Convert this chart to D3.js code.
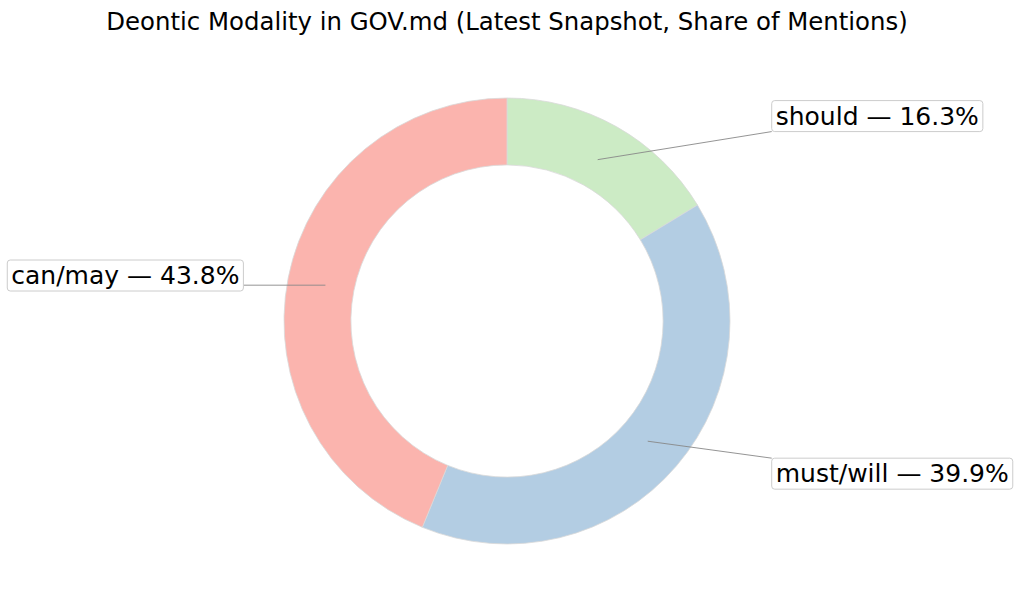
<!DOCTYPE html>
<html><head><meta charset="utf-8">
<script src="https://cdn.jsdelivr.net/npm/d3@7"></script>
<style>body{margin:0;background:#fff}svg{display:block}text{font-family:"DejaVu Sans",sans-serif}</style>
</head><body>
<svg id="c" width="1020" height="610"></svg>
<script>
const categories = ["should", "must/will", "can/may"];
const shares = [16.3, 39.9, 43.8];
const colors = ["#ccebc5", "#b3cde3", "#fbb4ae"];
const title = "Deontic Modality in GOV.md (Latest Snapshot, Share of Mentions)";

const W = 1020, H = 610, cx = 507, cy = 321, R = 223, r0 = R * 0.7;
const svg = d3.select("#c");
svg.append("text").attr("x", cx).attr("y", 30).attr("text-anchor", "middle")
  .attr("font-size", 24.4).text(title);

const pie = d3.pie().sort(null).value(d => d).startAngle(0).endAngle(2 * Math.PI);
const arcs = pie(shares);
const arc = d3.arc().innerRadius(r0).outerRadius(R);
const g = svg.append("g").attr("transform", `translate(${cx},${cy})`);
g.selectAll("path").data(arcs).join("path")
  .attr("d", arc).attr("fill", (d, i) => colors[i])
  .attr("stroke", "#d9d9d9").attr("stroke-width", 0.8);

const fs = 25;
arcs.forEach((a, i) => {
  const m = (a.startAngle + a.endAngle) / 2;
  const px = Math.sin(m) * R * 0.83, py = -Math.cos(m) * R * 0.83;
  const right = px > 0;
  const ly = py * 1.27;
  const tx = right ? R * 1.205 : -R * 1.2;
  const t = g.append("text").attr("x", tx).attr("y", ly).attr("dy", "0.35em")
    .attr("text-anchor", right ? "start" : "end").attr("font-size", fs)
    .text(`${categories[i]} — ${shares[i].toFixed(1)}%`);
  const bb = t.node().getBBox();
  const bx = bb.x - 4, bw = bb.width + 8, byy = ly - 15.5, bh = 31;
  g.insert("rect", "text").attr("x", bx).attr("y", byy).attr("width", bw).attr("height", bh)
    .attr("rx", 3).attr("fill", "#fff").attr("stroke", "#cccccc").attr("stroke-width", 1);
  const ex = right ? bx : bx + bw;
  const ey = Math.max(byy, Math.min(byy + bh, py));
  g.insert("line", "rect").attr("x1", px).attr("y1", py).attr("x2", ex).attr("y2", ey)
    .attr("stroke", "#888").attr("stroke-width", 0.9);
});
</script>
</body></html>
